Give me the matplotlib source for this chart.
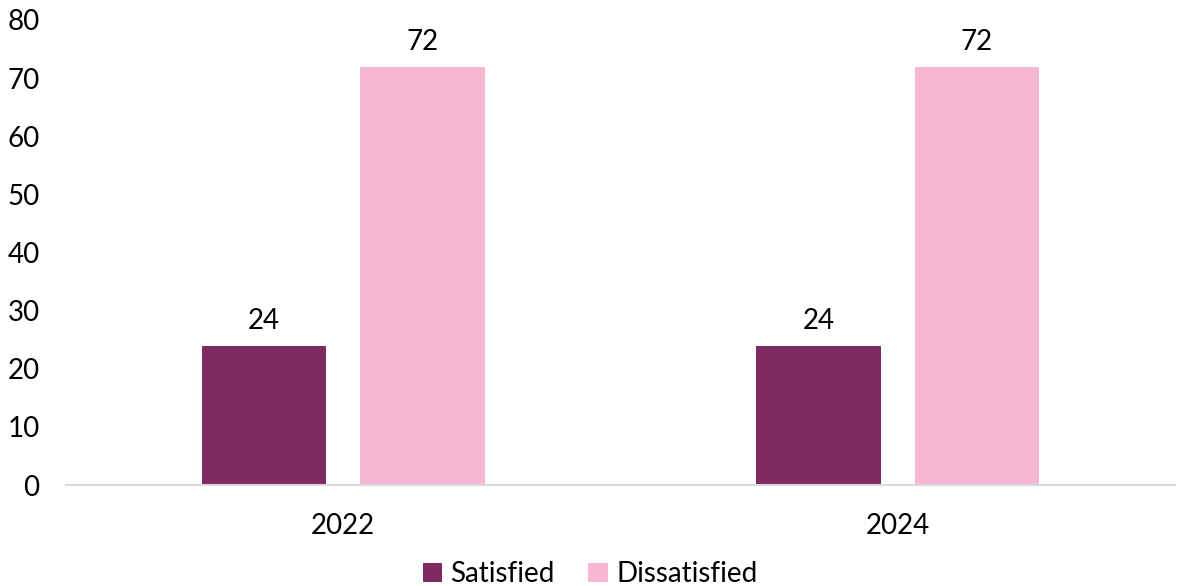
import matplotlib
matplotlib.use("Agg")
import matplotlib.pyplot as plt
import numpy as np

years = ["2022", "2024"]
satisfied = [24, 24]
dissatisfied = [72, 72]

plt.rcParams["font.family"] = ["Lato", "DejaVu Sans"]

fig = plt.figure(figsize=(11.8, 5.86), dpi=100)
ax = fig.add_axes([66 / 1180, 1 - 485 / 586, (1175 - 66) / 1180, (485 - 20) / 586])

x = np.arange(len(years))
w = 0.225
off = 0.143
b1 = ax.bar(x - off, satisfied, w, color="#7F2A60", label="Satisfied")
b2 = ax.bar(x + off, dissatisfied, w, color="#F6B7D2", label="Dissatisfied")
for bars in (b1, b2):
    ax.bar_label(bars, padding=8, fontsize=20)

ax.set_xlim(-0.5, 1.5)
ax.set_ylim(0, 80)
ax.set_yticks(range(0, 81, 10))
ax.set_xticks(x)
ax.set_xticklabels(years)
ax.tick_params(axis="both", length=0, labelsize=20)
ax.tick_params(axis="y", pad=19)
ax.tick_params(axis="x", pad=20)
for s in ("top", "right", "left"):
    ax.spines[s].set_visible(False)
ax.spines["bottom"].set_color("#D9D9D9")
ax.spines["bottom"].set_linewidth(1.5)

fig.legend(loc="lower center", bbox_to_anchor=(0.5, -0.045), ncol=2, frameon=False,
           fontsize=20, handlelength=0.7, handleheight=0.7, handletextpad=0.3,
           columnspacing=1.2)

fig.savefig("out.png", dpi=100)
